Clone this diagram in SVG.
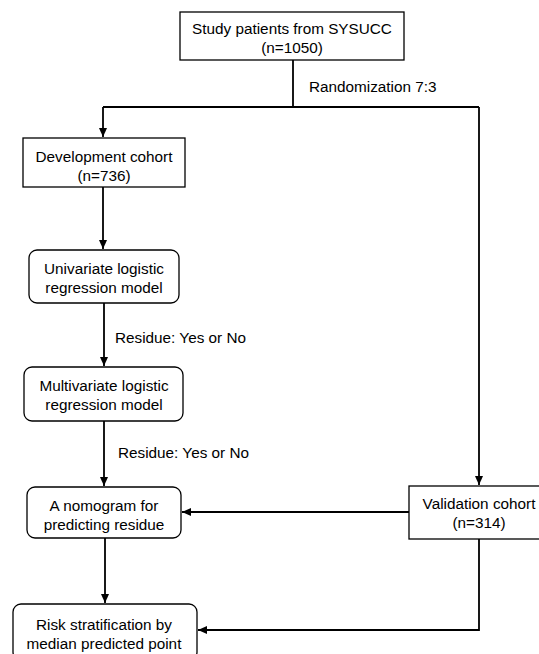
<svg xmlns="http://www.w3.org/2000/svg" width="539" height="654" viewBox="0 0 539 654">
<style>
.box{fill:#fff;stroke:#000;stroke-width:1.3}
.t{font-family:"Liberation Sans",Arial,sans-serif;font-size:15.3px;fill:#000;text-anchor:middle}
.l{font-family:"Liberation Sans",Arial,sans-serif;font-size:15.3px;fill:#000}
.c{fill:none;stroke:#000;stroke-width:1.8}
</style>
<defs>
<marker id="ah" markerWidth="10" markerHeight="10" refX="9" refY="4" orient="auto" markerUnits="userSpaceOnUse">
<path d="M0,0 L9,4 L0,8 z" fill="#000"/>
</marker>
</defs>
<rect width="539" height="654" fill="#fff"/>
<g id="connectors">
<path class="c" d="M293,60 V107"/>
<path class="c" d="M103,107 H479"/>
<path class="c" d="M103,107 V137" marker-end="url(#ah)"/>
<path class="c" d="M479,107 V485" marker-end="url(#ah)"/>
<path class="c" d="M103,187 V249" marker-end="url(#ah)"/>
<path class="c" d="M104,303 V366" marker-end="url(#ah)"/>
<path class="c" d="M104,421 V486" marker-end="url(#ah)"/>
<path class="c" d="M409,512 H182" marker-end="url(#ah)"/>
<path class="c" d="M105,538 V603" marker-end="url(#ah)"/>
<path class="c" d="M479,539 V630 H198" marker-end="url(#ah)"/>
<text class="l" x="309" y="92">Randomization 7:3</text>
<text class="l" x="115" y="343">Residue: Yes or No</text>
<text class="l" x="118" y="458">Residue: Yes or No</text>
</g>
<g id="study">
<rect class="box" x="180" y="12" width="224" height="48"/>
<text class="t" x="292" y="34">Study patients from SYSUCC</text>
<text class="t" x="292" y="53">(n=1050)</text>
</g>
<g id="development">
<rect class="box" x="23" y="138" width="162" height="49"/>
<text class="t" x="104" y="162">Development cohort</text>
<text class="t" x="104" y="181">(n=736)</text>
</g>
<g id="univariate">
<rect class="box" x="29" y="250" width="150" height="53" rx="8"/>
<text class="t" x="104" y="274">Univariate logistic</text>
<text class="t" x="104" y="293">regression model</text>
</g>
<g id="multivariate">
<rect class="box" x="24" y="367" width="159" height="54" rx="8"/>
<text class="t" x="104" y="391">Multivariate logistic</text>
<text class="t" x="104" y="410">regression model</text>
</g>
<g id="nomogram">
<rect class="box" x="27" y="487" width="154" height="51" rx="8"/>
<text class="t" x="104" y="511">A nomogram for</text>
<text class="t" x="104" y="530">predicting residue</text>
</g>
<g id="validation">
<rect class="box" x="409" y="486" width="131" height="53"/>
<text class="t" x="479" y="509">Validation cohort</text>
<text class="t" x="479" y="528">(n=314)</text>
</g>
<g id="risk">
<rect class="box" x="13" y="604" width="184" height="56" rx="8"/>
<text class="t" x="104" y="630">Risk stratification by</text>
<text class="t" x="104" y="649">median predicted point</text>
</g>
</svg>
